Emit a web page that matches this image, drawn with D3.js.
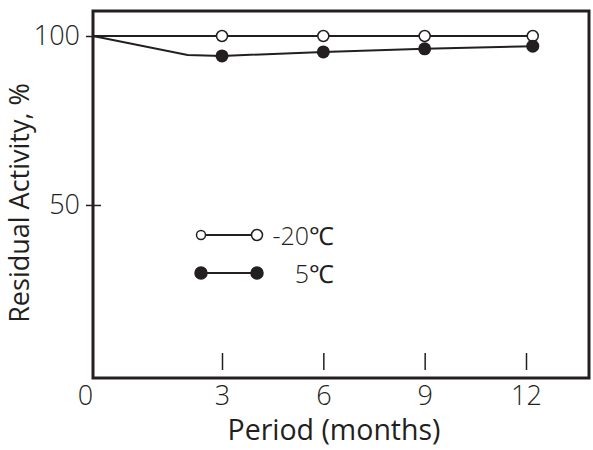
<!DOCTYPE html>
<html>
<head>
<meta charset="utf-8">
<script src="https://cdn.jsdelivr.net/npm/d3@7"></script>
<style>
  body { margin: 0; background: #fff; }
  text { font-family: "Open Sans", sans-serif; fill: #231f20; }
</style>
</head>
<body>
<div id="chart"></div>
<script>
var svgWidth = 593;
var svgHeight = 450;

var margin = { top: 11, right: 4, bottom: 72, left: 93 };
var width = svgWidth - margin.left - margin.right;
var height = svgHeight - margin.top - margin.bottom;

// values
var xTicks = [3, 6, 9, 12];
var yTicks = [50, 100];
var coldMonths = [0, 3, 6, 9, 12.2];
var coldActivity = [100, 100, 100, 100, 100];
var warmMonths = [0, 2.2, 3, 6, 9, 12.2];
var warmActivity = [100, 94.4, 94.1, 95.3, 96.2, 97.0];
var warmMarked = [false, false, true, true, true, true];
var legendLabels = ["-20\u2103", "5\u2103"];

var coldData = coldMonths.map((m, i) => ({ x: m, y: coldActivity[i], marker: i > 0 }));
var warmData = warmMonths.map((m, i) => ({ x: m, y: warmActivity[i], marker: warmMarked[i] }));

var svg = d3.select("#chart")
  .append("svg")
  .attr("width", svgWidth)
  .attr("height", svgHeight);

var chartGroup = svg.append("g")
  .attr("transform", `translate(${margin.left}, ${margin.top})`);

var xScale = d3.scaleLinear()
  .domain([0, 3, 12])
  .range([0, 129, 433]);

var yScale = d3.scaleLinear()
  .domain([-1.2, 107.4])
  .range([height, 0]);

var ink = "#231f20";

// x ticks sit inside the frame, lifted off the bottom line
var xTickAxis = chartGroup.append("g")
  .attr("transform", `translate(0, ${height - 8})`)
  .call(d3.axisTop(xScale).tickValues(xTicks).tickSize(17).tickFormat(""));
xTickAxis.select(".domain").remove();
xTickAxis.selectAll("line").attr("stroke", ink).attr("stroke-width", 1.5);

var xLabelAxis = chartGroup.append("g")
  .attr("transform", `translate(0, ${height})`)
  .call(d3.axisBottom(xScale).tickValues([0].concat(xTicks)).tickSize(0).tickPadding(8));
xLabelAxis.select(".domain").remove();
xLabelAxis.selectAll("text")
  .attr("font-size", 27)
  .attr("font-weight", 300)
  .attr("font-family", "'Open Sans', sans-serif")
  .attr("fill", "#111")
  .attr("dx", d => d === 0 ? -8 : 0);

var yAxis = chartGroup.append("g")
  .call(d3.axisLeft(yScale).tickValues(yTicks).tickSize(7).tickPadding(6));
yAxis.select(".domain").remove();
yAxis.selectAll("line").attr("x1", 8).attr("stroke", ink).attr("stroke-width", 1.5);
yAxis.selectAll("text")
  .attr("font-size", 27)
  .attr("font-weight", 300)
  .attr("font-family", "'Open Sans', sans-serif")
  .attr("fill", "#111");

// frame
chartGroup.append("rect")
  .attr("x", 0)
  .attr("y", 0)
  .attr("width", width)
  .attr("height", height)
  .attr("fill", "none")
  .attr("stroke", ink)
  .attr("stroke-width", 3);

var line = d3.line()
  .x(d => xScale(d.x))
  .y(d => yScale(d.y));

[coldData, warmData].forEach(function(series) {
  chartGroup.append("path")
    .datum(series)
    .attr("d", line)
    .attr("fill", "none")
    .attr("stroke", ink)
    .attr("stroke-width", 2);
});

chartGroup.selectAll(".cold")
  .data(coldData.filter(d => d.marker))
  .enter()
  .append("circle")
  .attr("class", "cold")
  .attr("cx", d => xScale(d.x))
  .attr("cy", d => yScale(d.y))
  .attr("r", 5.5)
  .attr("fill", "#fff")
  .attr("stroke", ink)
  .attr("stroke-width", 1.5);

chartGroup.selectAll(".warm")
  .data(warmData.filter(d => d.marker))
  .enter()
  .append("circle")
  .attr("class", "warm")
  .attr("cx", d => xScale(d.x))
  .attr("cy", d => yScale(d.y))
  .attr("r", 6.5)
  .attr("fill", ink);

// legend
var legend = chartGroup.append("g")
  .attr("transform", "translate(108, 224)");

legendLabels.forEach(function(label, i) {
  var row = legend.append("g").attr("transform", `translate(0, ${i * 38})`);
  row.append("line")
    .attr("x1", 0).attr("x2", 56)
    .attr("stroke", ink).attr("stroke-width", 2);
  [0, 56].forEach(function(cx, j) {
    row.append("circle")
      .attr("cx", cx)
      .attr("r", i === 0 ? (j === 0 ? 4.5 : 5.5) : 6)
      .attr("fill", i === 0 ? "#fff" : ink)
      .attr("stroke", ink)
      .attr("stroke-width", 1.5);
  });
  row.append("text")
    .attr("x", 133)
    .attr("y", 10)
    .attr("text-anchor", "end")
    .attr("font-size", 25)
    .attr("font-weight", 300)
    .attr("fill", "#111")
    .text(label);
});

// axis titles
chartGroup.append("text")
  .attr("x", 241)
  .attr("y", height + 62)
  .attr("text-anchor", "middle")
  .attr("font-size", 28.5)
  .text("Period (months)");

chartGroup.append("text")
  .attr("transform", "rotate(-90)")
  .attr("x", -192)
  .attr("y", -64)
  .attr("text-anchor", "middle")
  .attr("font-size", 27)
  .text("Residual Activity, %");
</script>
</body>
</html>
